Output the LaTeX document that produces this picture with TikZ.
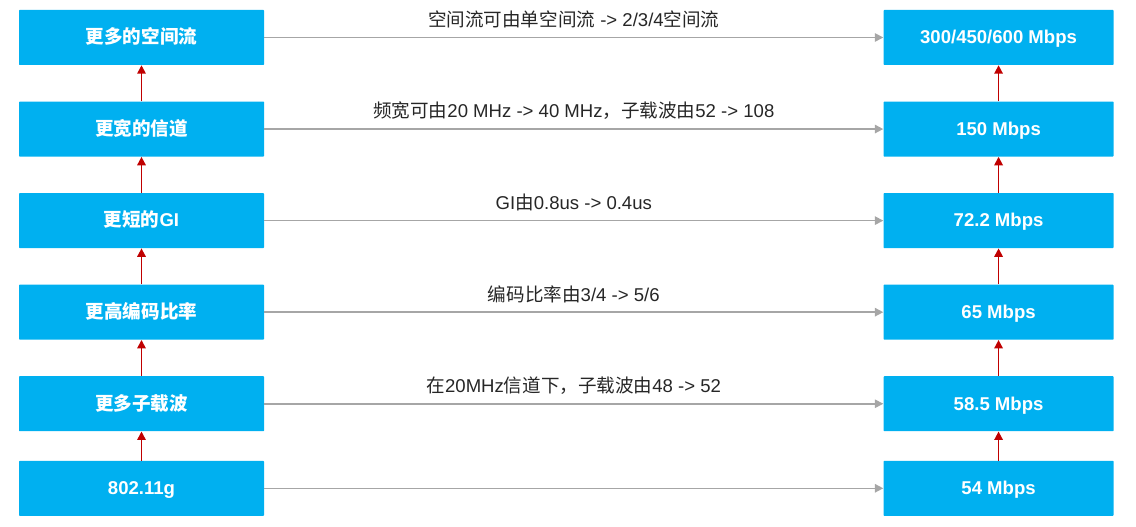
\documentclass[tikz,border=0pt]{standalone}
\usepackage{fontspec}
\setmainfont{Liberation Sans}
\newfontfamily\cjk{Noto Sans CJK SC}
\usetikzlibrary{arrows.meta, positioning}
\definecolor{wifi-blue}{RGB}{0,176,240}
\definecolor{wifi-red}{RGB}{192,0,0}
\definecolor{wifi-gray}{RGB}{166,166,166}

\begin{document}
\begin{tikzpicture}[
    node distance=0.9cm,
    feature/.style={rectangle, fill=wifi-blue, rounded corners=0.5pt, minimum width=6.125cm, minimum height=1.375cm, inner sep=0pt, text height=0.95em, text depth=0.05em, text=white, font=\fontsize{13.2pt}{15pt}\selectfont\bfseries},
    rate/.style={feature, minimum width=5.75cm},
    note/.style={font=\fontsize{13.2pt}{15pt}\selectfont, text=black!85},
    upgrade/.style={-{Triangle[length=6pt, width=6pt]}, draw=wifi-red, line width=1.2pt},
    gain/.style={-{Triangle[length=6pt, width=6pt]}, draw=wifi-gray, line width=1.1pt},
]
\useasboundingbox (0,0) rectangle (28.4,13.175);

% Features
\node[feature] (streams) at (3.5375,12.2375) {\cjk 更多的空间流};
\node[feature, below=of streams] (channel) {\cjk 更宽的信道};
\node[feature, below=of channel] (gi) {{\cjk 更短的}GI};
\node[feature, below=of gi] (coding) {\cjk 更高编码比率};
\node[feature, below=of coding] (subcarrier) {\cjk 更多子载波};
\node[feature, below=0.725cm of subcarrier] (base) {802.11g};

% Rates
\node[rate, right=15.475cm of streams] (r300) {300/450/600 Mbps};
\node[rate, right=15.475cm of channel] (r150) {150 Mbps};
\node[rate, right=15.475cm of gi] (r72) {72.2 Mbps};
\node[rate, right=15.475cm of coding] (r65) {65 Mbps};
\node[rate, right=15.475cm of subcarrier] (r58) {58.5 Mbps};
\node[rate, right=15.475cm of base] (r54) {54 Mbps};

% Upgrades
\draw[upgrade] (base) -- (subcarrier);
\draw[upgrade] (subcarrier) -- (coding);
\draw[upgrade] (coding) -- (gi);
\draw[upgrade] (gi) -- (channel);
\draw[upgrade] (channel) -- (streams);
\draw[upgrade] (r54) -- (r58);
\draw[upgrade] (r58) -- (r65);
\draw[upgrade] (r65) -- (r72);
\draw[upgrade] (r72) -- (r150);
\draw[upgrade] (r150) -- (r300);

% Gains
\draw[gain] (streams) -- node[note, above=1mm] {{\cjk 空间流可由单空间流} -> 2/3/4{\cjk 空间流}} (r300);
\draw[gain] (channel) -- node[note, above=1mm] {{\cjk 频宽可由}20 MHz -> 40 MHz{\cjk ，子载波由}52 -> 108} (r150);
\draw[gain] (gi) -- node[note, above=1mm] {GI{\cjk 由}0.8us -> 0.4us} (r72);
\draw[gain] (coding) -- node[note, above=1mm] {{\cjk 编码比率由}3/4 -> 5/6} (r65);
\draw[gain] (subcarrier) -- node[note, above=1mm] {{\cjk 在}20MHz{\cjk 信道下，子载波由}48 -> 52} (r58);
\draw[gain] (base) -- (r54);

\end{tikzpicture}
\end{document}
